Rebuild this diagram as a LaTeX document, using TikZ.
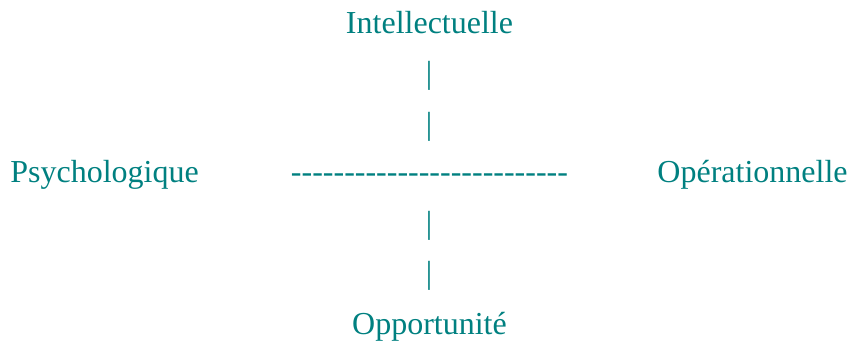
\documentclass[tikz,border=0pt]{standalone}
\usepackage{fontspec}
\setmainfont{Liberation Serif}
\usepackage{xcolor}
\definecolor{axisteal}{HTML}{008080}

\tikzset{lbl/.style={inner sep=0pt,text=axisteal,font=\fontsize{16}{19}\selectfont}}

\begin{document}
\begin{tikzpicture}[x=0.5pt,y=-0.5pt]
  \useasboundingbox (0,0) rectangle (852,342);
  \node[lbl,anchor=base] (intel) at (429.5,33.5) {Intellectuelle};
  \node[lbl,anchor=base] (barA) at (429,84) {|}; \node[lbl,anchor=base] (barB) at (429,134) {|};
  \node[lbl,anchor=base west] (psy) at (10,183) {Psychologique};
  \node[lbl,anchor=base] (dash) at (429.5,183) {-{}-{}-{}-{}-{}-{}-{}-{}-{}-{}-{}-{}-{}-{}-{}-{}-{}-{}-{}-{}-{}-{}-{}-{}-{}-};
  \node[lbl,anchor=base east] (oper) at (848,183) {Opérationnelle};
  \node[lbl,anchor=base] (barC) at (429,234) {|}; \node[lbl,anchor=base] (barD) at (429,283) {|};
  \node[lbl,anchor=base] (oppo) at (429.5,334) {Opportunité};
\end{tikzpicture}
\end{document}
